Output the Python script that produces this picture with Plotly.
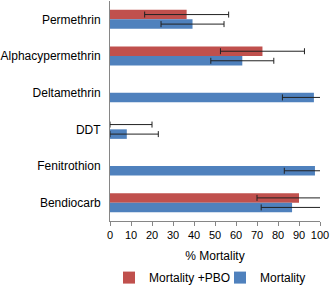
import plotly.graph_objects as go

categories = ["Permethrin", "Alphacypermethrin", "Deltamethrin", "DDT", "Fenitrothion", "Bendiocarb"]
pbo_values = [36.5, 72.6, None, 0, None, 90]
pbo_err_plus = [20, 20, 0, 20, 0, 20]
pbo_err_minus = [20, 20, 0, 0, 0, 20]
mort_values = [39.3, 63, 97.1, 8, 97.6, 86.7]
mort_err_plus = [15, 15, 15, 15, 14.6, 14.7]
mort_err_minus = [15, 15, 15, 8, 14.6, 14.7]
x_ticks = [0, 10, 20, 30, 40, 50, 60, 70, 80, 90, 100]

font = "Liberation Sans"

fig = go.Figure()
fig.add_trace(go.Bar(
    y=categories, x=pbo_values, orientation="h", name="Mortality +PBO",
    marker=dict(color="#C0504D", line=dict(width=0)), legend="legend",
    error_x=dict(type="data", symmetric=False, array=pbo_err_plus,
                 arrayminus=pbo_err_minus, color="#222222", thickness=1, width=3),
))
fig.add_trace(go.Bar(
    y=categories, x=mort_values, orientation="h", name="Mortality",
    marker=dict(color="#4F81BD", line=dict(width=0)), legend="legend2",
    error_x=dict(type="data", symmetric=False, array=mort_err_plus,
                 arrayminus=mort_err_minus, color="#222222", thickness=1, width=3),
))

leg_common = dict(orientation="h", xref="container", xanchor="left",
                  yref="container", y=0.026, yanchor="middle",
                  font=dict(size=12), itemwidth=30, bgcolor="rgba(0,0,0,0)")

fig.update_layout(
    width=331, height=285,
    margin=dict(l=110, r=11, t=1, b=64),
    paper_bgcolor="white", plot_bgcolor="white",
    barmode="group", bargap=0.48, bargroupgap=0,
    font=dict(family=font, size=12, color="#000000"),
    showlegend=True,
    legend=dict(x=109 / 331, **leg_common),
    legend2=dict(x=220 / 331, **leg_common),
    xaxis=dict(range=[0, 100], tickvals=x_ticks, showgrid=False, zeroline=False,
               showline=True, linecolor="#868686", linewidth=1,
               ticks="outside", ticklen=4, tickcolor="#868686",
               tickfont=dict(size=11), automargin=False,
               title=dict(text="% Mortality", font=dict(size=12), standoff=11)),
    yaxis=dict(autorange="reversed", showgrid=False, zeroline=False,
               showline=True, linecolor="#868686", linewidth=1, automargin=False,
               ticks="", tickfont=dict(size=12), ticklabelstandoff=6),
)

fig.write_html("out.html", config={"displayModeBar": False},
               post_script="document.body.style.margin='0';")
